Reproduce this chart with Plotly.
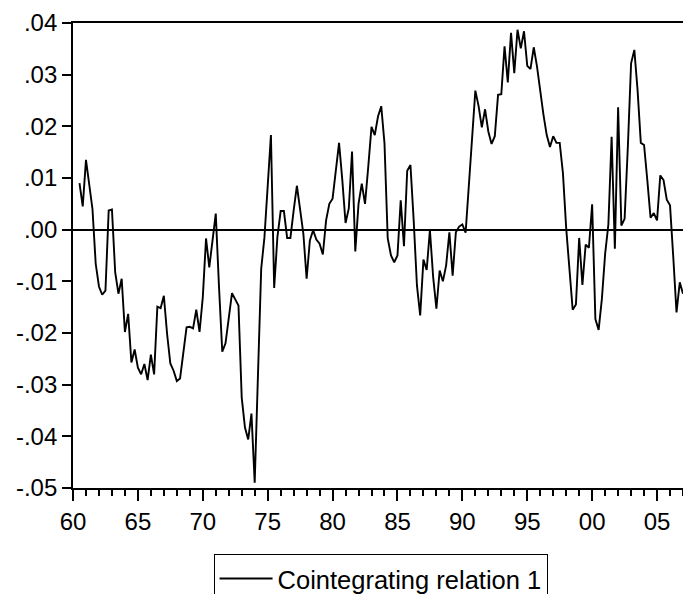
import plotly.graph_objects as go

# Quarterly series, first observation 1960Q3
start_year = 1960
start_quarter = 3

coint_relation_1 = [
    0.0090, 0.0045, 0.0135, 0.0085, 0.0040, -0.0066, -0.0110, -0.0126, -0.0118, 0.0037,
    0.0039, -0.0082, -0.0124, -0.0095, -0.0198, -0.0163, -0.0257, -0.0232, -0.0267, -0.0280,
    -0.0260, -0.0291, -0.0242, -0.0280, -0.0149, -0.0152, -0.0128, -0.0202, -0.0259, -0.0273,
    -0.0293, -0.0288, -0.0234, -0.0189, -0.0188, -0.0191, -0.0155, -0.0198, -0.0131, -0.0017,
    -0.0073, -0.0020, 0.0031, -0.0111, -0.0236, -0.0220, -0.0170, -0.0123, -0.0135, -0.0147,
    -0.0325, -0.0383, -0.0406, -0.0356, -0.0490, -0.0273, -0.0076, -0.0015, 0.0080, 0.0183,
    -0.0113, -0.0014, 0.0036, 0.0036, -0.0016, -0.0016, 0.0037, 0.0085, 0.0039, -0.0008,
    -0.0095, -0.0021, -0.0001, -0.0019, -0.0027, -0.0048, 0.0018, 0.0050, 0.0060, 0.0109,
    0.0168, 0.0096, 0.0013, 0.0041, 0.0151, -0.0042, 0.0050, 0.0089, 0.0050, 0.0122,
    0.0199, 0.0183, 0.0219, 0.0239, 0.0167, -0.0017, -0.0050, -0.0063, -0.0050, 0.0057,
    -0.0032, 0.0114, 0.0125, 0.0018, -0.0108, -0.0166, -0.0058, -0.0078, -0.0001, -0.0092,
    -0.0153, -0.0079, -0.0100, -0.0069, -0.0005, -0.0089, -0.0005, 0.0006, 0.0010, -0.0006,
    0.0089, 0.0164, 0.0269, 0.0239, 0.0198, 0.0233, 0.0190, 0.0166, 0.0181, 0.0261,
    0.0262, 0.0355, 0.0285, 0.0381, 0.0303, 0.0387, 0.0351, 0.0384, 0.0317, 0.0311,
    0.0353, 0.0316, 0.0267, 0.0222, 0.0183, 0.0160, 0.0181, 0.0168, 0.0168, 0.0109,
    0.0003, -0.0080, -0.0155, -0.0145, -0.0016, -0.0107, -0.0029, -0.0035, 0.0049, -0.0173,
    -0.0194, -0.0134, -0.0047, 0.0010, 0.0180, -0.0037, 0.0237, 0.0008, 0.0021, 0.0160,
    0.0322, 0.0348, 0.0270, 0.0168, 0.0164, 0.0096, 0.0023, 0.0032, 0.0018, 0.0105,
    0.0096, 0.0058, 0.0047, -0.0053, -0.0160, -0.0102, -0.0124,
]

x_tick_years = [1960, 1965, 1970, 1975, 1980, 1985, 1990, 1995, 2000, 2005]
x_tick_labels = ["60", "65", "70", "75", "80", "85", "90", "95", "00", "05"]
y_tick_values = [0.04, 0.03, 0.02, 0.01, 0.0, -0.01, -0.02, -0.03, -0.04, -0.05]
y_tick_labels = [".04", ".03", ".02", ".01", ".00", "-.01", "-.02", "-.03", "-.04", "-.05"]

# decimal year of each quarter (start of period)
quarters = [start_year + (start_quarter - 1) / 4 + k / 4 for k in range(len(coint_relation_1))]

FONT = "Liberation Sans, Arial, sans-serif"

fig = go.Figure()
fig.add_trace(go.Scatter(
    x=quarters, y=coint_relation_1, mode="lines",
    line=dict(color="black", width=1.9),
    name="Cointegrating relation 1",
    cliponaxis=False,
))

fig.update_layout(
    width=683, height=594,
    margin=dict(l=73, r=0, t=23, b=106, autoexpand=False),
    paper_bgcolor="white", plot_bgcolor="white",
    font=dict(family=FONT, size=24, color="black"),
    showlegend=True,
    legend=dict(
        x=0.2304, y=-0.143, xanchor="left", yanchor="top",
        bordercolor="black", borderwidth=1, bgcolor="white",
        itemwidth=53,
        font=dict(family=FONT, size=25.5, color="black"),
    ),
)

fig.update_xaxes(
    range=[1960, 2007],
    tickvals=x_tick_years, ticktext=x_tick_labels,
    showgrid=False, zeroline=False, automargin=False,
    showline=True, linecolor="black", linewidth=1.8, mirror=True,
    ticks="outside", ticklen=11, tickwidth=1.5, tickcolor="black",
    minor=dict(dtick=1, tick0=1960, ticks="outside", ticklen=6, tickwidth=1.5, tickcolor="black", showgrid=False),
    tickfont=dict(family=FONT, size=24, color="black"),
)
fig.update_yaxes(
    range=[-0.05, 0.04],
    tickvals=y_tick_values, ticktext=y_tick_labels,
    showgrid=False, automargin=False,
    zeroline=True, zerolinecolor="black", zerolinewidth=1.5,
    showline=True, linecolor="black", linewidth=1.8, mirror=False,
    ticks="outside", ticklen=9, tickwidth=1.5, tickcolor="black",
    tickfont=dict(family=FONT, size=24, color="black"),
)

fig.write_html(
    "out.html",
    config={"displayModeBar": False},
    post_script="document.body.style.margin='0px';document.body.style.overflow='hidden';",
)
